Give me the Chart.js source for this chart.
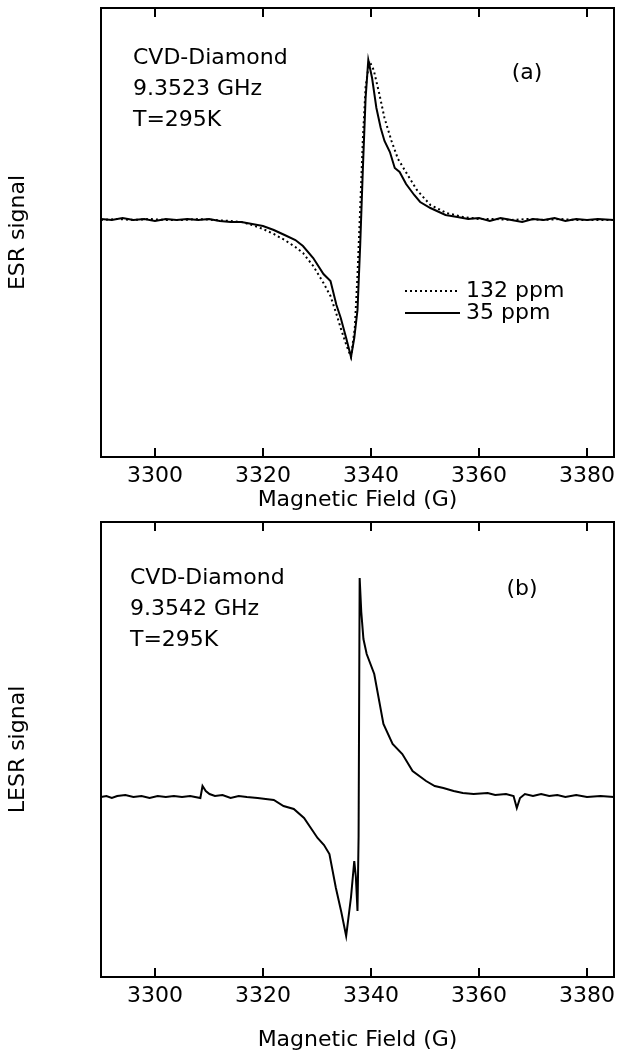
<!DOCTYPE html>
<html>
<head>
<meta charset="utf-8">
<script src="https://cdn.jsdelivr.net/npm/chart.js@4.4.1/dist/chart.umd.min.js"></script>
<style>
  html, body { margin: 0; padding: 0; background: #fff; }
  #wrap { position: relative; width: 623px; height: 1053px; }
  canvas { position: absolute; left: 0; }
</style>
</head>
<body>
<div id="wrap">
  <canvas id="esr" width="623" height="515" style="top:0"></canvas>
  <canvas id="lesr" width="623" height="538" style="top:515px"></canvas>
</div>
<script>
// ---- data (field in G, signal in arbitrary units) ----
const fieldTicks = [3300, 3320, 3340, 3360, 3380];

// (a) ESR, 35 ppm (solid)
const field35 = [3290, 3292, 3294, 3296, 3298, 3300, 3302, 3304, 3306, 3308,
  3310, 3312, 3314, 3316, 3318, 3320, 3322, 3324, 3326, 3327.4,
  3329.3, 3331.2, 3332.5, 3333.6, 3334.4, 3335.4, 3336.3, 3336.9, 3337.5, 3338,
  3338.5, 3339, 3339.5, 3340.2, 3341, 3341.8, 3342.5, 3343.5, 3344.4, 3345.3,
  3346.5, 3348, 3349.1, 3351, 3353.8, 3356, 3358, 3360, 3362, 3364,
  3366, 3368, 3370, 3372, 3374, 3376, 3378, 3380, 3382, 3385];
const esr35 = [1, 0, 2, 0, 1, -1, 1, 0, 1, 0,
  1, -1, -2, -2, -4, -6, -10, -15, -20, -26,
  -38, -54, -61, -85, -98, -118, -137, -118, -90, -25,
  52, 122, 160, 142, 112, 92, 79, 68, 52, 48,
  36, 25, 18, 12, 5, 3, 1, 2, -1, 2,
  0, -2, 1, 0, 2, -1, 1, 0, 1, 0];

// (a) ESR, 132 ppm (dotted)
const field132 = [3290, 3293, 3296, 3299, 3302, 3305, 3308, 3311, 3314, 3316,
  3318, 3320, 3322, 3324, 3326, 3327.4, 3329.3, 3331.2, 3332.5, 3333.6,
  3334.5, 3335.5, 3336.3, 3337, 3337.5, 3338, 3338.5, 3339, 3339.7, 3340.5,
  3341.5, 3342.5, 3343.8, 3345, 3346.8, 3348.5, 3351, 3354, 3357, 3360,
  3363, 3366, 3369, 3372, 3375, 3378, 3381, 3385];
const esr132 = [0, 1, 0, 1, 0, 0, 1, 0, -1, -2,
  -5, -9, -14, -20, -27, -33, -46, -63, -76, -94,
  -110, -126, -137, -108, -55, 12, 82, 133, 159, 150,
  127, 102, 79, 61, 45, 30, 15, 7, 3, 1,
  1, 0, 1, 0, 1, 0, 0, 0];

// (b) LESR
const fieldB = [3290, 3291, 3292, 3293, 3294.5, 3296, 3297.5, 3299, 3300.5, 3302,
  3303.5, 3305, 3306.5, 3308.4, 3308.8, 3309.4, 3310.1, 3311.1, 3312.5, 3314,
  3315.5, 3317, 3319, 3320.5, 3322, 3323.8, 3325.7, 3327.6, 3330.1, 3331.3,
  3332.3, 3333.5, 3334.5, 3335.4, 3336.3, 3336.9, 3337.2, 3337.5, 3337.7, 3337.9,
  3338.2, 3338.6, 3339.2, 3340.6, 3342.3, 3344, 3345.8, 3347.7, 3350.2, 3351.8,
  3353.4, 3355.3, 3357, 3359, 3361.6, 3363, 3365, 3366.4, 3367, 3367.6,
  3368.5, 3370, 3371.5, 3373, 3374.5, 3376, 3378, 3380, 3382.5, 3385];
const lesr = [0, 1, -1, 1, 2, 0, 1, -1, 1, 0,
  1, 0, 1, -1, 11, 6, 3, 1, 2, -1,
  1, 0, -1, -2, -3, -9, -12, -21, -41, -48,
  -57, -91, -115, -139, -100, -64, -80, -114, -40, 219,
  185, 158, 143, 123, 73, 53, 43, 26, 16, 11,
  9, 6, 4, 3, 4, 2, 3, 1, -11, -1,
  3, 1, 3, 1, 2, 0, 2, 0, 1, 0];

const pts = (xs, ys) => xs.map((x, i) => ({ x, y: ys[i] }));

Chart.defaults.font.family = '"DejaVu Sans", sans-serif';
Chart.defaults.font.size = 22;
Chart.defaults.color = '#000';

// box, inward ticks, text notes and the little legend
const framePlugin = {
  id: 'frame',
  afterDatasetsDraw(chart, args, opts) {
    const { ctx, chartArea: a, scales: { x } } = chart;
    ctx.save();
    ctx.strokeStyle = '#000';
    ctx.fillStyle = '#000';
    ctx.lineWidth = 2;
    ctx.strokeRect(a.left, a.top, a.right - a.left, a.bottom - a.top);
    x.ticks.forEach(t => {
      const px = Math.round(x.getPixelForValue(t.value));
      ctx.beginPath();
      ctx.moveTo(px, a.bottom); ctx.lineTo(px, a.bottom - opts.tickLen);
      ctx.moveTo(px, a.top); ctx.lineTo(px, a.top + opts.tickLen);
      ctx.stroke();
    });
    ctx.font = '22px "DejaVu Sans"';
    ctx.textBaseline = 'middle';
    ctx.textAlign = 'left';
    opts.notes.forEach((line, i) => ctx.fillText(line, opts.noteX, opts.noteY + i * opts.noteGap));
    ctx.textAlign = 'center';
    ctx.fillText(opts.tag, opts.tagX, opts.tagY);
    if (opts.legend) {
      const lg = opts.legend;
      chart.data.datasets.forEach((ds, i) => {
        const y = lg.y + i * lg.gap;
        ctx.lineWidth = ds.borderWidth;
        ctx.setLineDash(ds.borderDash || []);
        ctx.beginPath(); ctx.moveTo(lg.x0, y); ctx.lineTo(lg.x1, y); ctx.stroke();
        ctx.setLineDash([]);
        ctx.textAlign = 'left';
        ctx.fillText(ds.label, lg.x1 + 6, y);
      });
    }
    ctx.restore();
  }
};

function makeChart(id, datasets, cfg) {
  return new Chart(document.getElementById(id), {
    type: 'line',
    data: { datasets },
    options: {
      responsive: false,
      animation: false,
      devicePixelRatio: 1,
      layout: { padding: { top: cfg.padTop, right: cfg.padRight, left: 0, bottom: 0 } },
      elements: { point: { radius: 0 }, line: { tension: 0 } },
      plugins: {
        legend: { display: false },
        tooltip: { enabled: false },
        frame: cfg.frame
      },
      scales: {
        x: {
          type: 'linear',
          min: 3290, max: 3385,
          afterBuildTicks: s => { s.ticks = fieldTicks.map(v => ({ value: v })); },
          afterFit: s => { s.height = cfg.xHeight; },
          grid: { display: false, drawTicks: false },
          border: { display: false },
          ticks: { padding: 6, maxRotation: 0, callback: v => String(v) },
          title: { display: true, text: 'Magnetic Field (G)', padding: { top: 0, bottom: cfg.titlePad } }
        },
        y: {
          min: cfg.yMin, max: cfg.yMax,
          afterFit: s => { s.width = cfg.yWidth; },
          grid: { display: false, drawTicks: false },
          border: { display: false },
          ticks: { display: false },
          title: { display: true, text: cfg.yTitle, padding: { top: 5, bottom: 0 } }
        }
      }
    },
    plugins: [framePlugin]
  });
}

makeChart('esr', [
  { label: '132 ppm', data: pts(field132, esr132), borderColor: '#000', borderWidth: 2, borderDash: [2, 3] },
  { label: '35 ppm', data: pts(field35, esr35), borderColor: '#000', borderWidth: 2 }
], {
  padTop: 8, padRight: 9, xHeight: 58, yWidth: 101, titlePad: 2,
  yMin: -237, yMax: 212, yTitle: 'ESR signal',
  frame: {
    tickLen: 9,
    notes: ['CVD-Diamond', '9.3523 GHz', 'T=295K'], noteX: 133, noteY: 58, noteGap: 31,
    tag: '(a)', tagX: 527, tagY: 73,
    legend: { x0: 405, x1: 460, y: 291, gap: 22 }
  }
});

makeChart('lesr', [
  { label: 'LESR', data: pts(fieldB, lesr), borderColor: '#000', borderWidth: 2 }
], {
  padTop: 7, padRight: 9, xHeight: 76, yWidth: 101, titlePad: 0,
  yMin: -180, yMax: 275, yTitle: 'LESR signal',
  frame: {
    tickLen: 9,
    notes: ['CVD-Diamond', '9.3542 GHz', 'T=295K'], noteX: 130, noteY: 63, noteGap: 31,
    tag: '(b)', tagX: 522, tagY: 74,
    legend: null
  }
});
</script>
</body>
</html>
